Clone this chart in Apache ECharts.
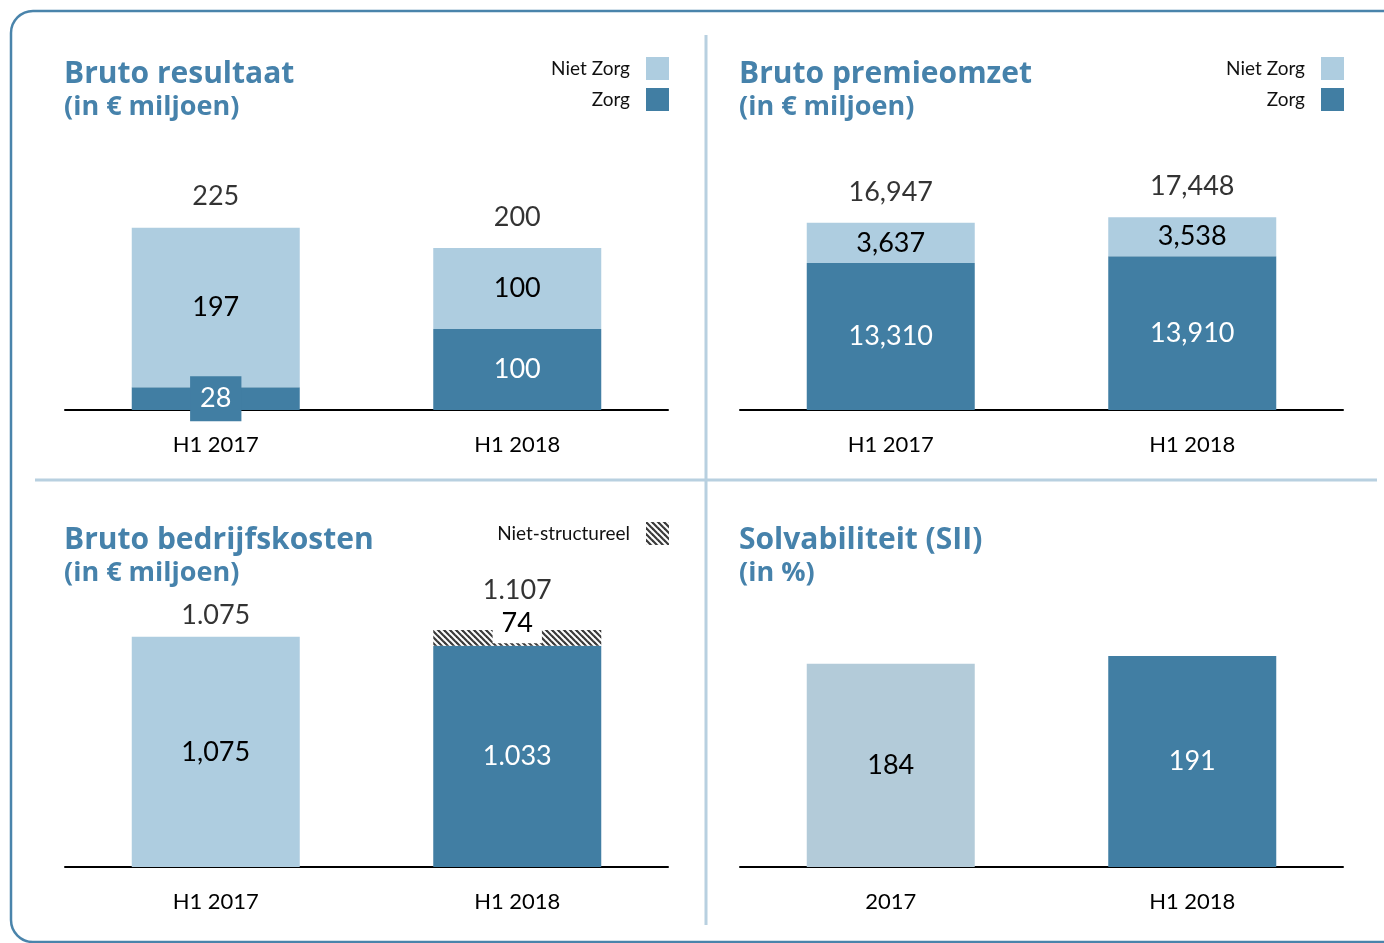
<!DOCTYPE html>
<html>
<head>
<meta charset="utf-8">
<script src="https://cdn.jsdelivr.net/npm/echarts@6/dist/echarts.min.js"></script>
<style>
  html, body { margin: 0; padding: 0; background: #fff; }
  #main { width: 1384px; height: 943px; }
</style>
</head>
<body>
<div id="main"></div>
<script>
// categorieen
var catsH1 = ['H1 2017', 'H1 2018'];
var catsSolv = ['2017', 'H1 2018'];

// Bruto resultaat
var resZorg = [28, 100];
var resNietZorg = [197, 100];
var resTotal = [225, 200];

// Bruto premieomzet
var premZorg = [13310, 13910];
var premNietZorg = [3637, 3538];
var premTotal = [16947, 17448];

// Bruto bedrijfskosten
var kostStruct = [1075, 1033];
var kostStructLbl = ['1,075', '1.033'];
var kostNietStruct = [null, 74];
var kostTotal = [1075, 1107];
var kostTotalLbl = ['1.075', '1.107'];

// Solvabiliteit
var solv = [184, 191];

var LIGHT = '#aecde0';
var DARK = '#417ea3';
var SOLV_LIGHT = '#b3cbd9';
var TITLE = '#4682ab';
var SEP = '#b8d0e0';
var FONT = 'Lato';
var TFONT = 'Open Sans';

// arcering voor niet-structureel
var hatch = document.createElement('canvas');
hatch.width = 6; hatch.height = 6;
var hc = hatch.getContext('2d');
hc.fillStyle = '#fff';
hc.fillRect(0, 0, 6, 6);
hc.strokeStyle = '#3a3a3a';
hc.lineWidth = 2.2;
[-6, 0, 6].forEach(function (c) {
  hc.beginPath();
  hc.moveTo(c - 1, -1);
  hc.lineTo(c + 7, 7);
  hc.stroke();
});
var HATCH = { image: hatch, repeat: 'repeat' };

function fmt(v) {
  return String(v).replace(/\B(?=(\d{3})+(?!\d))/g, ',');
}

function xAx(idx, cats) {
  return {
    type: 'category', gridIndex: idx, data: cats,
    axisTick: { show: false },
    axisLine: { lineStyle: { color: '#000', width: 2 } },
    axisLabel: { fontFamily: FONT, fontSize: 22, color: '#000', margin: 24 }
  };
}
function yAx(idx, max) {
  return { type: 'value', gridIndex: idx, min: 0, max: max, show: false, splitLine: { show: false } };
}
function totals(idx, vals, dists, lbls) {
  return {
    type: 'scatter', xAxisIndex: idx, yAxisIndex: idx, symbolSize: 1,
    itemStyle: { color: 'rgba(0,0,0,0)' }, silent: true,
    data: vals.map(function (v, i) {
      return { value: v, label: { distance: dists[i], formatter: lbls ? lbls[i] : fmt(v) } };
    }),
    label: { show: true, position: 'top', fontFamily: FONT, fontSize: 27, color: '#000' }
  };
}
var barLabel = { show: true, position: 'inside', fontFamily: FONT, fontSize: 27 };

var titleBase = {
  padding: 0, itemGap: 0,
  textStyle: { fontFamily: TFONT, fontSize: 30, fontWeight: 'bold', color: TITLE, lineHeight: 34 },
  subtextStyle: { fontFamily: TFONT, fontSize: 27, fontWeight: 'bold', color: TITLE, lineHeight: 32 }
};
function title(t, s, left, top) {
  return Object.assign({ text: t, subtext: s, left: left, top: top }, titleBase);
}
function legend(names, right, top) {
  return {
    data: names, orient: 'vertical', align: 'right', right: right, top: top,
    padding: 0, itemWidth: 23, itemHeight: 23, itemGap: 8, selectedMode: false, icon: 'rect',
    textStyle: { fontFamily: FONT, fontSize: 19, color: '#111', padding: [4, 11, 0, 0] }
  };
}

var chart = echarts.init(document.getElementById('main'));
chart.setOption({
  animation: false,
  title: [
    title('Bruto resultaat', '(in € miljoen)', 64, 57),
    title('Bruto premieomzet', '(in € miljoen)', 739, 57),
    title('Bruto bedrijfskosten', '(in € miljoen)', 64, 523),
    title('Solvabiliteit (SII)', '(in %)', 739, 523)
  ],
  legend: [
    legend(['Niet Zorg', 'Zorg'], 715, 57),
    legend(['Niet Zorg', 'Zorg'], 40, 57),
    legend(['Niet-structureel'], 715, 522)
  ],
  grid: [
    { left: 65, width: 603, top: 167, height: 243 },
    { left: 740, width: 603, top: 189, height: 221 },
    { left: 65, width: 603, top: 610, height: 257 },
    { left: 740, width: 603, top: 646, height: 221 }
  ],
  xAxis: [xAx(0, catsH1), xAx(1, catsH1), xAx(2, catsH1), xAx(3, catsSolv)],
  yAxis: [yAx(0, 300), yAx(1, 20000), yAx(2, 1200), yAx(3, 200)],
  graphic: [
    { type: 'rect', shape: { x: 11, y: 11, width: 1420, height: 931, r: 22 },
      style: { fill: null, stroke: '#4a84ab', lineWidth: 2.5 }, silent: true },
    { type: 'line', shape: { x1: 706, y1: 35, x2: 706, y2: 925 },
      style: { stroke: SEP, lineWidth: 3 }, silent: true },
    { type: 'line', shape: { x1: 35, y1: 480, x2: 1377, y2: 480 },
      style: { stroke: SEP, lineWidth: 3 }, silent: true }
  ],
  series: [
    // Bruto resultaat
    {
      name: 'Zorg', type: 'bar', stack: 'res', xAxisIndex: 0, yAxisIndex: 0, barWidth: 168,
      itemStyle: { color: DARK },
      label: Object.assign({ color: '#fff' }, barLabel),
      data: resZorg.map(function (v, i) {
        return i === 0 ? { value: v, label: { backgroundColor: DARK, padding: [10, 10, 8, 10] } } : v;
      })
    },
    {
      name: 'Niet Zorg', type: 'bar', stack: 'res', xAxisIndex: 0, yAxisIndex: 0, barWidth: 168,
      itemStyle: { color: LIGHT },
      label: Object.assign({ color: '#000' }, barLabel),
      data: resNietZorg
    },
    totals(0, resTotal, [17, 17]),

    // Bruto premieomzet
    {
      name: 'Zorg', type: 'bar', stack: 'prem', xAxisIndex: 1, yAxisIndex: 1, barWidth: 168,
      itemStyle: { color: DARK },
      label: Object.assign({ color: '#fff', formatter: function (p) { return fmt(p.value); } }, barLabel),
      data: premZorg
    },
    {
      name: 'Niet Zorg', type: 'bar', stack: 'prem', xAxisIndex: 1, yAxisIndex: 1, barWidth: 168,
      itemStyle: { color: LIGHT },
      label: Object.assign({ color: '#000', formatter: function (p) { return fmt(p.value); } }, barLabel),
      data: premNietZorg
    },
    totals(1, premTotal, [16, 17]),

    // Bruto bedrijfskosten
    {
      name: 'Structureel', type: 'bar', stack: 'kost', xAxisIndex: 2, yAxisIndex: 2, barWidth: 168,
      label: barLabel,
      data: kostStruct.map(function (v, i) {
        return {
          value: v,
          itemStyle: { color: i === 0 ? LIGHT : DARK },
          label: { color: i === 0 ? '#000' : '#fff', formatter: kostStructLbl[i] }
        };
      })
    },
    {
      name: 'Niet-structureel', type: 'bar', stack: 'kost', xAxisIndex: 2, yAxisIndex: 2, barWidth: 168,
      itemStyle: { color: HATCH },
      label: Object.assign({ color: '#000', backgroundColor: '#fff', padding: [7, 9], offset: [0, -15] }, barLabel),
      data: kostNietStruct
    },
    totals(2, kostTotal, [7, 26], kostTotalLbl),

    // Solvabiliteit
    {
      name: 'Solvabiliteit', type: 'bar', xAxisIndex: 3, yAxisIndex: 3, barWidth: 168,
      label: barLabel,
      data: solv.map(function (v, i) {
        return {
          value: v,
          itemStyle: { color: i === 0 ? SOLV_LIGHT : DARK },
          label: { color: i === 0 ? '#000' : '#fff' }
        };
      })
    }
  ]
});
</script>
</body>
</html>
